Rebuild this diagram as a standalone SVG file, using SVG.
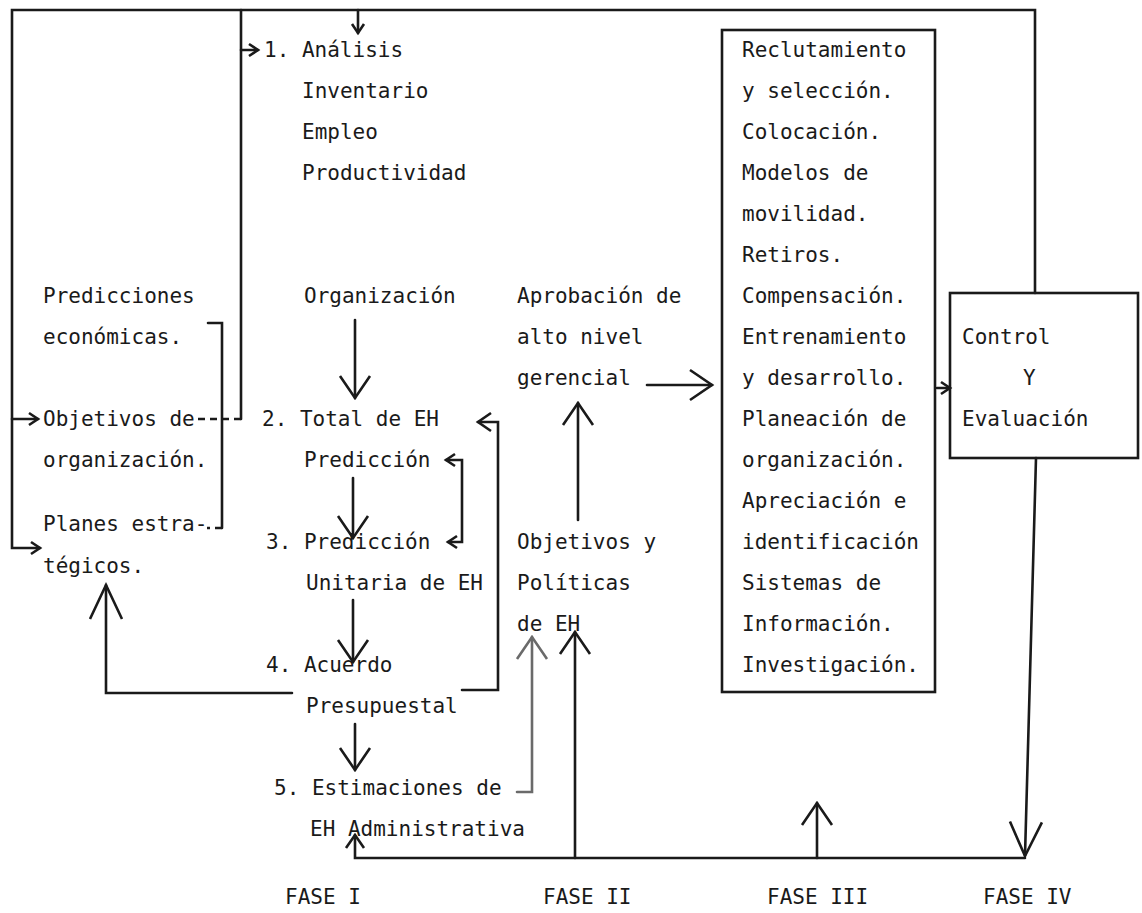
<svg xmlns="http://www.w3.org/2000/svg" width="1142" height="913" viewBox="0 0 1142 913">
<style>
  text { font-family: "DejaVu Sans Mono", "Liberation Mono", monospace; font-size: 21px; fill: #1a1a1a; }
  .ln { fill: none; stroke: #1a1a1a; stroke-width: 2.6; stroke-linecap: round; stroke-linejoin: miter; }
  .dash { fill: none; stroke: #1a1a1a; stroke-width: 2.4; stroke-dasharray: 7 5; }
  .gray { stroke: #6a6a6a; }
  .box { fill: none; stroke: #1a1a1a; stroke-width: 2.6; }
</style>
<defs>
  <marker id="sm" markerUnits="userSpaceOnUse" markerWidth="20" markerHeight="20" refX="0" refY="0" orient="auto-start-reverse" overflow="visible">
    <path d="M-9,-6 L0,0 L-9,6" fill="none" stroke="#1a1a1a" stroke-width="2.6"/>
  </marker>
  <marker id="md" markerUnits="userSpaceOnUse" markerWidth="30" markerHeight="30" refX="0" refY="0" orient="auto" overflow="visible">
    <path d="M-13,-9 L0,0 L-13,9" fill="none" stroke="#1a1a1a" stroke-width="2.6"/>
  </marker>
  <marker id="big" markerUnits="userSpaceOnUse" markerWidth="40" markerHeight="40" refX="0" refY="0" orient="auto" overflow="visible">
    <path d="M-22,-15 L0,0 L-22,15" fill="none" stroke="#1a1a1a" stroke-width="2.6"/>
  </marker>
  <marker id="bigg" markerUnits="userSpaceOnUse" markerWidth="40" markerHeight="40" refX="0" refY="0" orient="auto" overflow="visible">
    <path d="M-22,-15 L0,0 L-22,15" fill="none" stroke="#6a6a6a" stroke-width="2.6"/>
  </marker>
  <marker id="tall" markerUnits="userSpaceOnUse" markerWidth="50" markerHeight="50" refX="0" refY="0" orient="auto" overflow="visible">
    <path d="M-34,-16 L0,0 L-34,16" fill="none" stroke="#1a1a1a" stroke-width="2.6"/>
  </marker>
</defs>

<g id="connectors">
  <path class="ln" d="M1035,293 V10 H12 V548 H40" marker-end="url(#sm)"/>
  <path class="ln" d="M12,419 H38" marker-end="url(#sm)"/>
  <path class="ln" d="M358,10 V33" marker-end="url(#sm)"/>
  <path class="ln" d="M241,10 V419"/>
  <path class="ln" d="M241,50 H258" marker-end="url(#sm)"/>
  <path class="dash" d="M241,419 H198"/>
  <path class="ln" d="M208,323 H222 V528"/>
  <path class="dash" d="M222,528 H207"/>
  <path class="ln" d="M355,320 V398" marker-end="url(#big)"/>
  <path class="ln" d="M353,478 V538" marker-end="url(#big)"/>
  <path class="ln" d="M353,600 V662" marker-end="url(#big)"/>
  <path class="ln" d="M355,724 V770" marker-end="url(#big)"/>
  <path class="ln" d="M446,460 H462 V542 H448" marker-start="url(#sm)" marker-end="url(#sm)"/>
  <path class="ln" d="M462,690 H498 V422 H478" marker-end="url(#md)"/>
  <path class="ln" d="M292,693 H106 V585" marker-end="url(#tall)"/>
  <path class="ln gray" d="M517,792 H532 V637" marker-end="url(#bigg)"/>
  <path class="ln" d="M1025,858 H355 V835" marker-end="url(#md)"/>
  <path class="ln" d="M575,858 V632" marker-end="url(#big)"/>
  <path class="ln" d="M817,858 V803" marker-end="url(#big)"/>
  <path class="ln" d="M1036,458 L1025,856" marker-end="url(#tall)"/>
  <path class="ln" d="M578,520 V403" marker-end="url(#big)"/>
  <path class="ln" d="M647,385 H712" marker-end="url(#big)"/>
  <path class="ln" d="M937,388 H950" marker-end="url(#sm)"/>
</g>

<g id="n-predicciones">
  <text x="43" y="303">Predicciones</text>
  <text x="43" y="344">económicas.</text>
</g>
<g id="n-objetivos-org">
  <text x="43" y="426">Objetivos de</text>
  <text x="43" y="467">organización.</text>
</g>
<g id="n-planes">
  <text x="43" y="531">Planes estra-</text>
  <text x="43" y="573">tégicos.</text>
</g>

<g id="n-analisis">
  <text x="264" y="57">1. Análisis</text>
  <text x="302" y="98">Inventario</text>
  <text x="302" y="139">Empleo</text>
  <text x="302" y="180">Productividad</text>
</g>
<g id="n-organizacion">
  <text x="304" y="303">Organización</text>
</g>
<g id="n-total">
  <text x="262" y="426">2. Total de EH</text>
  <text x="304" y="467">Predicción</text>
</g>
<g id="n-unitaria">
  <text x="266" y="549">3. Predicción</text>
  <text x="306" y="590">Unitaria de EH</text>
</g>
<g id="n-acuerdo">
  <text x="266" y="672">4. Acuerdo</text>
  <text x="306" y="713">Presupuestal</text>
</g>
<g id="n-estimaciones">
  <text x="274" y="795">5. Estimaciones de</text>
  <text x="310" y="836">EH Administrativa</text>
</g>

<g id="n-aprobacion">
  <text x="517" y="303">Aprobación de</text>
  <text x="517" y="344">alto nivel</text>
  <text x="517" y="385">gerencial</text>
</g>
<g id="n-objetivos-eh">
  <text x="517" y="549">Objetivos y</text>
  <text x="517" y="590">Políticas</text>
  <text x="517" y="631">de EH</text>
</g>

<g id="n-actividades">
  <rect class="box" x="722" y="30" width="213" height="662"/>
  <text x="742" y="57">Reclutamiento</text>
  <text x="742" y="98">y selección.</text>
  <text x="742" y="139">Colocación.</text>
  <text x="742" y="180">Modelos de</text>
  <text x="742" y="221">movilidad.</text>
  <text x="742" y="262">Retiros.</text>
  <text x="742" y="303">Compensación.</text>
  <text x="742" y="344">Entrenamiento</text>
  <text x="742" y="385">y desarrollo.</text>
  <text x="742" y="426">Planeación de</text>
  <text x="742" y="467">organización.</text>
  <text x="742" y="508">Apreciación e</text>
  <text x="742" y="549">identificación</text>
  <text x="742" y="590">Sistemas de</text>
  <text x="742" y="631">Información.</text>
  <text x="742" y="672">Investigación.</text>
</g>

<g id="n-control">
  <rect class="box" x="950" y="293" width="188" height="165"/>
  <text x="962" y="344">Control</text>
  <text x="1023" y="385">Y</text>
  <text x="962" y="426">Evaluación</text>
</g>

<g id="n-fases">
  <text x="285" y="904">FASE I</text>
  <text x="543" y="904">FASE II</text>
  <text x="767" y="904">FASE III</text>
  <text x="983" y="904">FASE IV</text>
</g>
</svg>
